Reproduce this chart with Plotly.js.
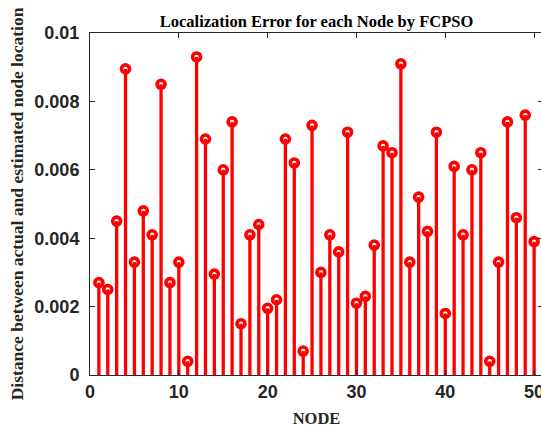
<!DOCTYPE html>
<html>
<head>
<meta charset="utf-8">
<script src="https://cdn.plot.ly/plotly-3.0.1.min.js"></script>
<style>
html, body { margin: 0; padding: 0; overflow: hidden; background: #fff; }
#chart { width: 546px; height: 428px; }
</style>
</head>
<body>
<div id="chart"></div>
<script>
// Node indices
const nodes = [1,2,3,4,5,6,7,8,9,10,11,12,13,14,15,16,17,18,19,20,21,22,23,24,25,26,27,28,29,30,31,32,33,34,35,36,37,38,39,40,41,42,43,44,45,46,47,48,49,50];
// Localization error per node
const errors = [0.0027,0.0025,0.0045,0.00895,0.0033,0.0048,0.0041,0.0085,0.0027,0.0033,
                0.0004,0.0093,0.0069,0.00295,0.0060,0.0074,0.0015,0.0041,0.0044,0.00195,
                0.0022,0.0069,0.0062,0.0007,0.0073,0.0030,0.0041,0.0036,0.0071,0.0021,
                0.0023,0.0038,0.0067,0.0065,0.0091,0.0033,0.0052,0.0042,0.0071,0.0018,
                0.0061,0.0041,0.0060,0.0065,0.0004,0.0033,0.0074,0.0046,0.0076,0.0039];
const xTickVals = [0,10,20,30,40,50];
const xTickText = ['0','10','20','30','40','50'];
const yTickVals = [0,0.002,0.004,0.006,0.008,0.01];
const yTickText = ['0','0.002','0.004','0.006','0.008','0.01'];

// Build stem segments from the data
const stemX = [], stemY = [];
nodes.forEach((n, i) => { stemX.push(n, n, null); stemY.push(0, errors[i], null); });

const red = '#ff0000';
const markers = {
  x: nodes, y: errors, type: 'scatter', mode: 'markers',
  marker: { symbol: 'circle', size: 8, color: '#ffffff', line: { color: red, width: 3.6 } },
  hoverinfo: 'skip', cliponaxis: false, showlegend: false
};
const stems = {
  x: stemX, y: stemY, type: 'scatter', mode: 'lines',
  line: { color: red, width: 3.3 }, hoverinfo: 'skip', showlegend: false
};

const tickFont = { family: 'Liberation Sans, Arial, sans-serif', size: 18, color: '#262626', weight: 'bold' };
const serif = 'Liberation Serif, Times New Roman, serif';

const layout = {
  width: 546, height: 428,
  margin: { l: 90, r: 3, t: 33, b: 53 },
  paper_bgcolor: '#ffffff', plot_bgcolor: '#ffffff',
  title: {
    text: 'Localization Error for each Node by FCPSO',
    font: { family: serif, size: 16.5, color: '#000000', weight: 'bold' },
    x: 0.5, xref: 'paper', y: 1 - 21.5/428, yref: 'container', yanchor: 'middle'
  },
  xaxis: {
    range: [0, 51], tickvals: xTickVals, ticktext: xTickText,
    ticks: 'inside', ticklen: 5, tickwidth: 1, tickcolor: '#262626',
    showline: true, linecolor: '#262626', linewidth: 1, mirror: 'ticks',
    showgrid: false, zeroline: false, tickfont: tickFont,
    title: { text: 'NODE', font: { family: serif, size: 16.5, color: '#262626', weight: 'bold' }, standoff: 12 },
    automargin: false
  },
  yaxis: {
    range: [0, 0.01], tickvals: yTickVals, ticktext: yTickText,
    ticks: 'inside', ticklen: 5, tickwidth: 1, tickcolor: '#262626',
    showline: true, linecolor: '#262626', linewidth: 1, mirror: 'ticks',
    showgrid: false, zeroline: false, tickfont: tickFont, ticklabelstandoff: 6,
    title: { text: 'Distance between actual and estimated node location', font: { family: serif, size: 17.5, color: '#262626', weight: 'bold' }, standoff: 6 },
    automargin: false
  }
};

Plotly.newPlot('chart', [markers, stems], layout, { displayModeBar: false, staticPlot: true });
</script>
</body>
</html>
